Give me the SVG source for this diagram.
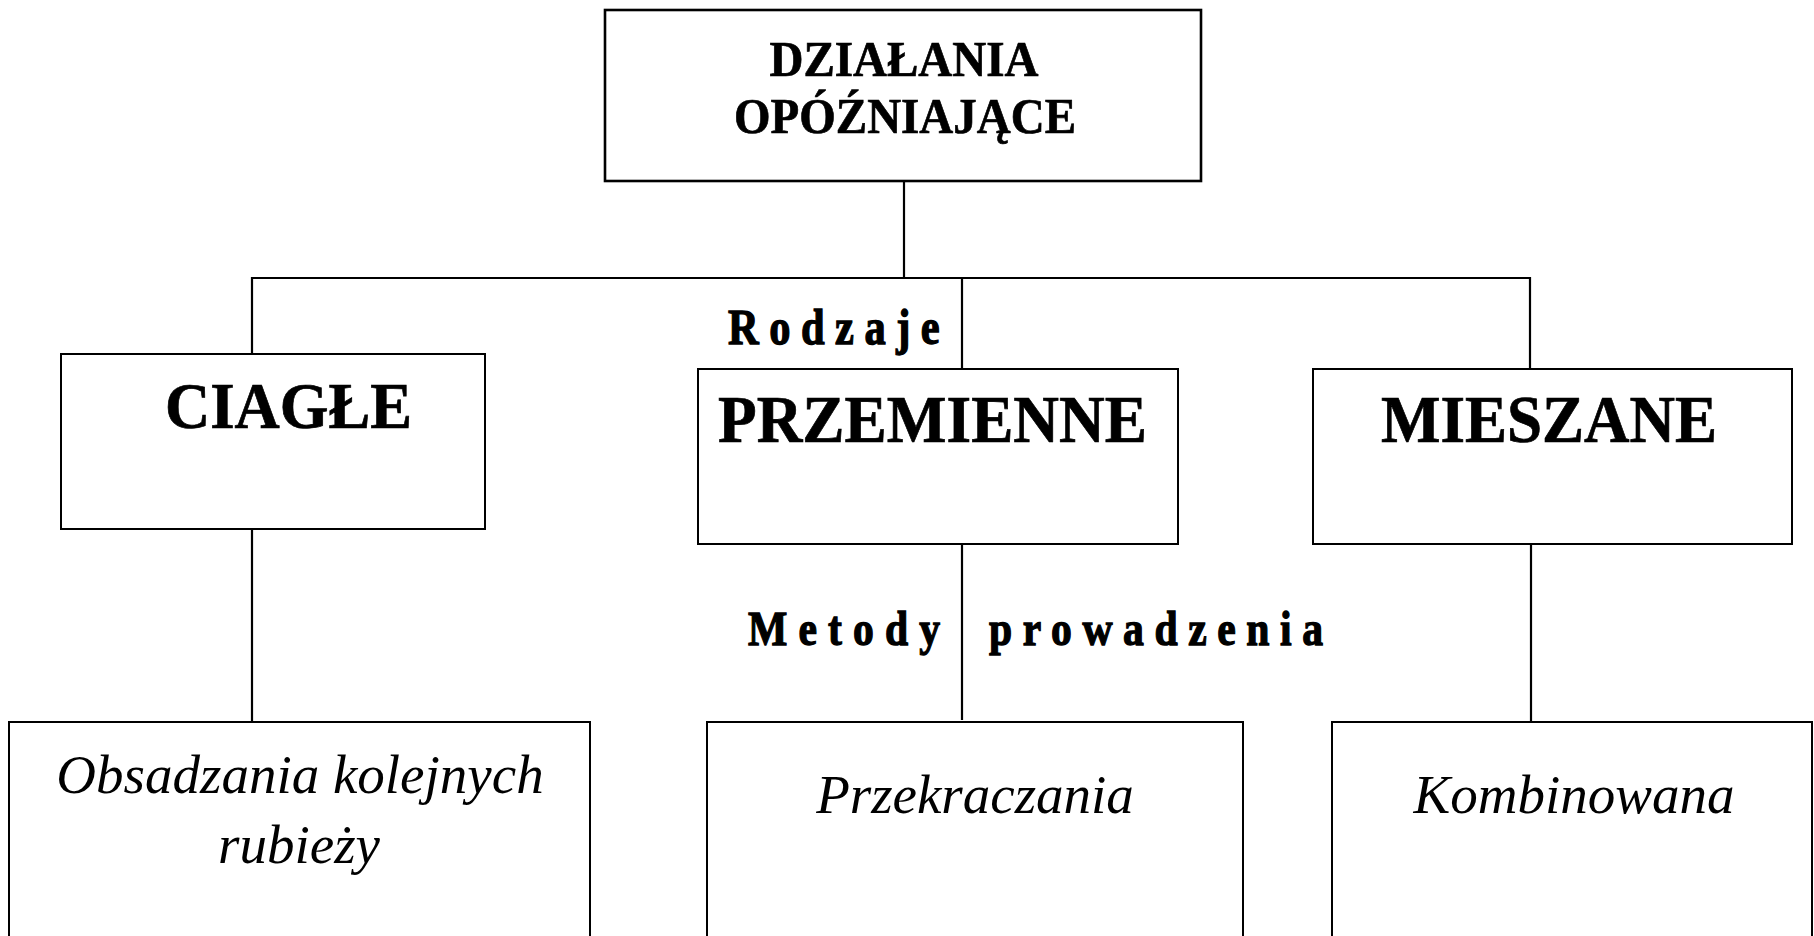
<svg xmlns="http://www.w3.org/2000/svg" width="1814" height="936" viewBox="0 0 1814 936">
<style>
.box{fill:#fff;stroke:#000;stroke-width:2}
.con{fill:none;stroke:#000;stroke-width:2.2}
.b{font-family:"Liberation Serif","Times New Roman",serif;font-weight:bold;fill:#000;stroke:#000;stroke-width:0.7}
.l{stroke-width:1.3}
.i{font-family:"Liberation Serif","Times New Roman",serif;font-style:italic;fill:#000;font-size:55px;text-anchor:middle}
.m{text-anchor:middle}
</style>
<rect width="1814" height="936" fill="#fff"/>
<g id="connectors">
<path class="con" d="M904,181 V278"/>
<path class="con" d="M252,354 V278 H1530 V369"/>
<path class="con" d="M962,278 V369"/>
<path class="con" d="M252,529 V722"/>
<path class="con" d="M962,544 V720"/>
<path class="con" d="M1531,544 V722"/>
</g>
<g id="n-top">
<rect class="box" x="605" y="10" width="596" height="171" style="stroke-width:2.6"/>
<text class="b m" x="904" y="76" font-size="51" textLength="269" lengthAdjust="spacingAndGlyphs">DZIAŁANIA</text>
<text class="b m" x="905" y="133" font-size="51" textLength="342" lengthAdjust="spacingAndGlyphs">OPÓŹNIAJĄCE</text>
</g>
<g id="n-ciagle">
<rect class="box" x="61" y="354" width="424" height="175"/>
<text class="b m" x="288.5" y="428" font-size="66" textLength="247" lengthAdjust="spacingAndGlyphs">CIAGŁE</text>
</g>
<g id="n-przemienne">
<rect class="box" x="698" y="369" width="480" height="175"/>
<text class="b m" x="932.5" y="442" font-size="67" textLength="429" lengthAdjust="spacingAndGlyphs">PRZEMIENNE</text>
</g>
<g id="n-mieszane">
<rect class="box" x="1313" y="369" width="479" height="175"/>
<text class="b m" x="1549" y="442" font-size="67" textLength="336" lengthAdjust="spacingAndGlyphs">MIESZANE</text>
</g>
<g id="labels">
<text class="b l" transform="translate(728,344) scale(0.85,1)" font-size="50" textLength="249" lengthAdjust="spacing">Rodzaje</text>
<text class="b l" transform="translate(748,645) scale(0.85,1)" font-size="49" textLength="226" lengthAdjust="spacing">Metody</text>
<text class="b l" transform="translate(989,645) scale(0.85,1)" font-size="49" textLength="393" lengthAdjust="spacing">prowadzenia</text>
</g>
<g id="n-obsadzania">
<rect class="box" x="9" y="722" width="581" height="250"/>
<text class="i" x="300" y="793">Obsadzania kolejnych</text>
<text class="i" x="299" y="863">rubieży</text>
</g>
<g id="n-przekraczania">
<rect class="box" x="707" y="722" width="536" height="250"/>
<text class="i" x="975" y="813">Przekraczania</text>
</g>
<g id="n-kombinowana">
<rect class="box" x="1332" y="722" width="480" height="250"/>
<text class="i" x="1574" y="813">Kombinowana</text>
</g>
</svg>
